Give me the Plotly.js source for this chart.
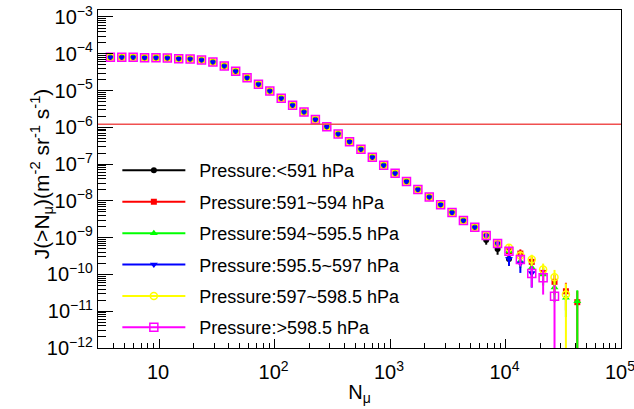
<!DOCTYPE html>
<html><head><meta charset="utf-8">
<script src="https://cdn.plot.ly/plotly-3.0.1.min.js"></script>
<style>html,body{margin:0;padding:0;background:#fff}#chart{width:634px;height:409px}</style>
</head><body><div id="chart"></div>
<script>
// Muon-number bins N_mu (bin centres)
const N_mu = [3.79, 4.76, 5.97, 7.50, 9.41, 11.80, 14.81, 18.59, 23.33, 29.28,
  36.73, 46.09, 57.84, 72.59, 91.08, 114.3, 143.4, 180.0, 225.9, 283.5,
  355.6, 446.3, 560.0, 702.7, 881.9, 1107, 1389, 1743, 2187, 2744,
  3443, 4321, 5422, 6804, 8538, 10715, 13446, 16873, 21173, 26570,
  33343, 41840];

// Integral flux J(>N_mu) common to all pressure bins (first 33 bins overlap)
const J_common = [8.00e-5, 8.00e-5, 8.00e-5, 7.83e-5, 7.83e-5, 7.67e-5, 7.36e-5, 7.21e-5, 6.78e-5, 5.97e-5,
  4.66e-5, 3.33e-5, 2.24e-5, 1.48e-5, 9.73e-6, 6.21e-6, 4.01e-6, 2.59e-6, 1.64e-6, 1.03e-6,
  6.62e-7, 4.08e-7, 2.52e-7, 1.53e-7, 9.27e-8, 5.62e-8, 3.39e-8, 2.03e-8, 1.27e-8, 7.83e-9,
  4.81e-9, 2.95e-9, 1.92e-9];

// Tails (from bin 33 on) where the pressure bins separate
const tail_p1 = [8.6e-10, 4.9e-10, 2.65e-10];
const tail_p2 = [1.14e-9, 6.9e-10, 4.27e-10, 3.70e-10, 2.20e-10, 1.10e-10, 6.3e-11, 3.49e-11, 1.76e-11];
const tail_p3 = [1.14e-9, 6.9e-10, 4.27e-10, 2.29e-10, 1.55e-10, 1.00e-10, 4.4e-11, 2.31e-11, 1.87e-11];
const tail_p4 = [1.14e-9, 6.9e-10, 2.65e-10, 2.00e-10, 1.10e-10];
const tail_p5 = [1.14e-9, 6.9e-10, 5.28e-10, 3.26e-10, 2.54e-10, 1.36e-10, 8.4e-11, 2.84e-11];
const tail_p6 = [1.14e-9, 6.9e-10, 4.27e-10, 2.54e-10, 1.06e-10, 8.1e-11, 2.57e-11];

// Relative statistical errors of the tail points
const relErr_p1 = [0.25, 0.3, 0.35];
const relErr_p2 = [0.15, 0.2, 0.25, 0.3, 0.35, 0.45, 0.55, 0.7, 1.0];
const relErr_p3 = [0.15, 0.2, 0.25, 0.35, 0.45, 0.5, 0.6, 0.7, 1.0];
const relErr_p4 = [0.15, 0.25, 0.35, 0.45, 0.6];
const relErr_p5 = [0.15, 0.2, 0.25, 0.3, 0.35, 0.45, 0.58, 1.0];
const relErr_p6 = [0.15, 0.2, 0.25, 0.35, 0.58, 0.65, 1.0];

const seriesNames = ['Pressure:<591 hPa', 'Pressure:591~594 hPa', 'Pressure:594~595.5 hPa',
  'Pressure:595.5~597 hPa', 'Pressure:597~598.5 hPa', 'Pressure:>598.5 hPa'];
const tails = [tail_p1, tail_p2, tail_p3, tail_p4, tail_p5, tail_p6];
const relErrs = [relErr_p1, relErr_p2, relErr_p3, relErr_p4, relErr_p5, relErr_p6];

const REF_FLUX = 1.22e-6; // horizontal reference line

const colors = ['#000000', '#ff0000', '#00ff00', '#0000ff', '#ffff00', '#ff00ff'];
const symbols = ['circle', 'square', 'triangle-up', 'triangle-down', 'circle-open', 'square-open'];
const sizes = [6, 6, 7, 7, 7, 8];

const FONT = 'Liberation Sans, Arial, Helvetica, sans-serif';
const traces = [];
const legendTraces = [];
for (let i = 0; i < 6; i++) {
  const y = J_common.concat(tails[i]);
  const x = N_mu.slice(0, y.length);
  const errPlus = y.map((v, j) => j < J_common.length ? 0 : v * relErrs[i][j - J_common.length]);
  const mk = {symbol: symbols[i], size: sizes[i], color: colors[i], line: {color: colors[i], width: symbols[i].endsWith('open') ? 1.5 : 0}};
  traces.push({
    type: 'scatter', mode: 'markers', x: x, y: y, showlegend: false, hoverinfo: 'skip',
    marker: mk,
    error_y: {type: 'data', array: errPlus, arrayminus: errPlus, symmetric: false, color: colors[i], thickness: 2, width: 0}
  });
  legendTraces.push({
    type: 'scatter', mode: 'lines+markers', x: [null], y: [null], name: seriesNames[i],
    legendgroup: 'g' + i, line: {color: colors[i], width: 2}, marker: mk
  });
}

// Plotly enlarges power-format log labels by 1.25, so 16 -> 20 px
const axisCommon = {
  type: 'log', dtick: 1, exponentformat: 'power', showgrid: false, zeroline: false,
  showline: true, linecolor: '#000', linewidth: 1, mirror: true,
  ticks: 'inside', tickcolor: '#000', tickwidth: 1, ticklabeloverflow: 'allow',
  tickfont: {family: FONT, size: 16, color: '#000'},
  automargin: false
};

const layout = {
  width: 634, height: 409,
  margin: {l: 98, r: 13, t: 10, b: 61},
  paper_bgcolor: '#fff', plot_bgcolor: '#fff',
  font: {family: FONT, color: '#000'},
  xaxis: Object.assign({}, axisCommon, {
    range: [0.4716, 5.0], ticklen: 9, ticklabelstandoff: 7, ticklabelshift: -1,
    minor: {ticks: 'inside', ticklen: 5, dtick: 'D1', tickcolor: '#000', showgrid: false},
    title: {text: 'N<sub>μ</sub>', font: {family: FONT, size: 20, color: '#000'}, standoff: 2}
  }),
  yaxis: Object.assign({}, axisCommon, {
    range: [-12, -2.81], ticklen: 15, ticklabelstandoff: 1,
    minor: {ticks: 'inside', ticklen: 8, dtick: 'D1', tickcolor: '#000', showgrid: false},
    title: {text: 'J(>N<sub>μ</sub>)(m<sup>-2</sup> sr<sup>-1</sup> s<sup>-1</sup>)', font: {family: FONT, size: 21, color: '#000'}, standoff: 0}
  }),
  shapes: [{type: 'line', xref: 'paper', x0: 0, x1: 1, yref: 'y', y0: REF_FLUX, y1: REF_FLUX,
    line: {color: '#f05050', width: 1.5}}],
  showlegend: true,
  legend: {x: 0.037, xanchor: 'left', y: 0.5794, yanchor: 'top', bgcolor: 'rgba(0,0,0,0)', borderwidth: 0,
    font: {family: FONT, size: 18, color: '#000'}, traceorder: 'grouped', tracegroupgap: 5, itemwidth: 72}
};

Plotly.newPlot('chart', traces.concat(legendTraces), layout, {staticPlot: true, displayModeBar: false}).then(gd => {
  gd.querySelectorAll('.legend .traces').forEach(t => {
    t.querySelectorAll('.legendlines path').forEach(p => p.setAttribute('d', 'M5,0h63'));
    t.querySelectorAll('.legendpoints path').forEach(p => p.setAttribute('transform', 'translate(36.5,0)'));
  });
  const yt = gd.querySelector('.g-ytitle');
  if (yt) yt.setAttribute('transform', 'translate(9,-5)');
});
</script></body></html>
